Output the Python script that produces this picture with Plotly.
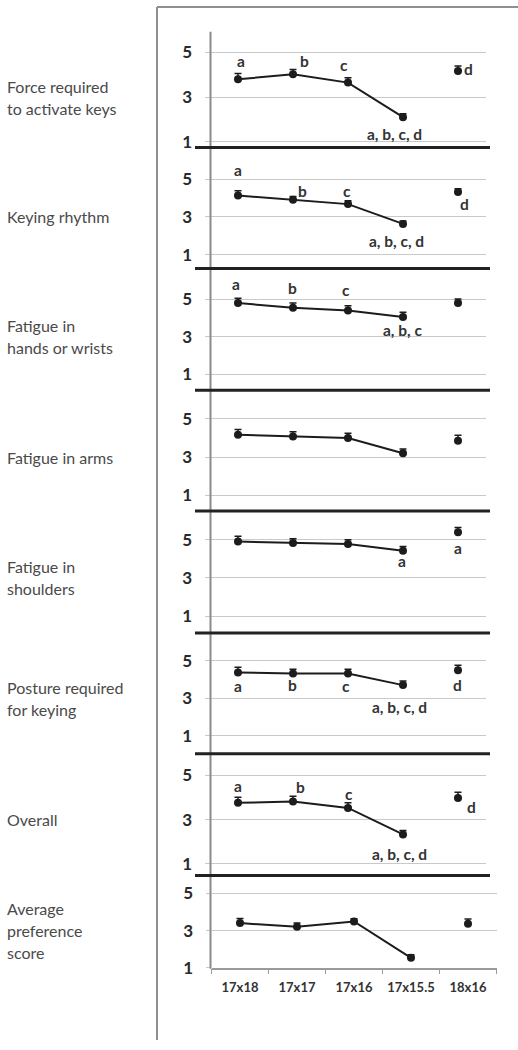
import plotly.graph_objects as go

W, H = 518, 1050

# Keyboard sizes (key pitch, mm)
sizes = ["17x18", "17x17", "17x16", "17x15.5", "18x16"]

# Rated criteria, one panel each
criteria = [
    ["Force required", "to activate keys"],
    ["Keying rhythm"],
    ["Fatigue in", "hands or wrists"],
    ["Fatigue in arms"],
    ["Fatigue in", "shoulders"],
    ["Posture required", "for keying"],
    ["Overall"],
    ["Average", "preference", "score"],
]

# Mean ratings and standard errors per keyboard size
force_keys = [3.80, 4.02, 3.65, 2.10, 4.17]
force_keys_se = [0.26, 0.22, 0.22, 0.15, 0.22]
keying_rhythm = [4.14, 3.91, 3.68, 2.63, 4.32]
keying_rhythm_se = [0.25, 0.18, 0.18, 0.15, 0.18]
fatigue_hands = [4.79, 4.54, 4.40, 4.05, 4.79]
fatigue_hands_se = [0.26, 0.25, 0.25, 0.25, 0.22]
fatigue_arms = [4.17, 4.08, 4.00, 3.20, 3.86]
fatigue_arms_se = [0.28, 0.25, 0.25, 0.22, 0.28]
fatigue_shoulders = [4.91, 4.83, 4.78, 4.43, 5.40]
fatigue_shoulders_se = [0.28, 0.22, 0.22, 0.22, 0.24]
posture = [4.37, 4.32, 4.32, 3.70, 4.49]
posture_se = [0.28, 0.22, 0.22, 0.22, 0.26]
overall = [3.76, 3.82, 3.53, 2.33, 3.98]
overall_se = [0.25, 0.24, 0.23, 0.18, 0.26]
preference = [3.40, 3.20, 3.49, 1.53, 3.37]
preference_se = [0.25, 0.20, 0.15, 0.17, 0.25]

# Significant-difference letters per keyboard size
force_keys_sig = ["a", "b", "c", "a, b, c, d", "d"]
keying_rhythm_sig = ["a", "b", "c", "a, b, c, d", "d"]
fatigue_hands_sig = ["a", "b", "c", "a, b, c", ""]
fatigue_arms_sig = ["", "", "", "", ""]
fatigue_shoulders_sig = ["", "", "", "a", "a"]
posture_sig = ["a", "b", "c", "a, b, c, d", "d"]
overall_sig = ["a", "b", "c", "a, b, c, d", "d"]
preference_sig = ["", "", "", "", ""]

yticks = [1, 3, 5]

panels = [
    (force_keys, force_keys_se, force_keys_sig),
    (keying_rhythm, keying_rhythm_se, keying_rhythm_sig),
    (fatigue_hands, fatigue_hands_se, fatigue_hands_sig),
    (fatigue_arms, fatigue_arms_se, fatigue_arms_sig),
    (fatigue_shoulders, fatigue_shoulders_se, fatigue_shoulders_sig),
    (posture, posture_se, posture_sig),
    (overall, overall_se, overall_sig),
    (preference, preference_se, preference_sig),
]

# Panel geometry in pixels: top edge, row of 5, row of 1, bottom edge
geometry = [
    (32, 53, 143, 149),
    (150, 181, 257, 271),
    (272, 302, 378, 394),
    (395, 423, 500, 516),
    (517, 545, 622, 639),
    (640, 667, 743, 761),
    (762, 783, 872, 884),
    (885, 902, 977, 977),
]
# Horizontal extent of the plotting area (pixels)
x_extent = [(210.5, 485.5)] * 7 + [(211.5, 496.5)]

# Letter placement relative to each point: (dx, dy) in pixels, dy up
letter_shift = [
    [(3, 18), (11, 13), (-4, 18), (-9, -17), (10, 2)],
    [(0, 25), (9, 9), (-1, 13), (-7, -17), (6, -12)],
    [(-2, 19), (-1, 20), (-2, 20), (-1, -13), (0, 0)],
    [(0, 0)] * 5,
    [(0, 0), (0, 0), (0, 0), (-1, -10), (0, -16)],
    [(0, -13), (-1, -12), (-2, -13), (-4, -22), (-1, -15)],
    [(0, 17), (7, 15), (1, 14), (-4, -20), (13, -9)],
    [(0, 0)] * 5,
]

INK = "#1c1c1c"
TEXT = "#333333"
GRID = "#c9c9c9"
FONT = "Lato, Open Sans, sans-serif"


def px_x(x):
    return x / W


def px_y(y):
    return 1 - y / H


fig = go.Figure()
annotations = []
layout = {}

for k, ((vals, se, sig), (top, p5, p1, bot), (xl, xr)) in enumerate(
        zip(panels, geometry, x_extent), start=1):
    xa = "x" if k == 1 else f"x{k}"
    ya = "y" if k == 1 else f"y{k}"
    unit = (p1 - p5) / 4.0
    y_hi = 5 + (p5 - top) / unit
    y_lo = 1 - (bot - p1) / unit

    err = dict(type="data", symmetric=False, color=INK, thickness=1.5, width=3.5)
    # connected sizes
    fig.add_trace(go.Scatter(
        x=sizes[:4], y=vals[:4], xaxis=xa, yaxis=ya, mode="lines+markers",
        line=dict(color=INK, width=2), marker=dict(color=INK, size=8),
        error_y=dict(err, array=se[:4], arrayminus=[0] * 4),
        cliponaxis=False, showlegend=False, hoverinfo="skip"))
    # stand-alone size
    fig.add_trace(go.Scatter(
        x=sizes[4:], y=vals[4:], xaxis=xa, yaxis=ya, mode="markers",
        marker=dict(color=INK, size=8),
        error_y=dict(err, array=se[4:], arrayminus=[0]),
        cliponaxis=False, showlegend=False, hoverinfo="skip"))

    xkey = "xaxis" if k == 1 else f"xaxis{k}"
    ykey = "yaxis" if k == 1 else f"yaxis{k}"
    last = k == len(panels)
    layout[xkey] = dict(
        domain=[px_x(xl), px_x(xr)], anchor=ya, type="category",
        categoryorder="array", categoryarray=sizes, range=[-0.5, 4.5],
        showgrid=False, zeroline=False,
        showline=last, linecolor="#9a9a9a", linewidth=1.5,
        ticks="outside" if last else "", tickson="boundaries",
        ticklen=5, tickcolor="#9a9a9a", tickwidth=1.2,
        showticklabels=last, tickangle=0, ticklabelstandoff=7,
        tickfont=dict(family=FONT, size=13, color=TEXT, weight="bold"),
    )
    layout[ykey] = dict(
        domain=[px_y(bot), px_y(top)], anchor=xa, range=[y_lo, y_hi],
        tickvals=yticks, ticktext=[str(v) for v in yticks],
        showgrid=True, gridcolor=GRID, gridwidth=1, zeroline=False,
        showline=False, ticks="outside", ticklen=5, tickcolor=GRID,
        ticklabelstandoff=9,
        tickfont=dict(family=FONT, size=17, color="#2a2a2a", weight="bold"),
    )

    # significance letters
    for i, (txt, (dx, dy)) in enumerate(zip(sig, letter_shift[k - 1])):
        if not txt:
            continue
        annotations.append(dict(
            x=sizes[i], y=vals[i], xref=xa, yref=ya, text=txt, showarrow=False,
            xshift=dx, yshift=dy, xanchor="center", yanchor="middle",
            font=dict(family=FONT, size=15.5, color=TEXT, weight="bold")))

    # criterion name on the left, centred on the middle gridline
    lines = criteria[k - 1]
    n = len(lines)
    for j, line in enumerate(lines):
        annotations.append(dict(
            x=px_x(5), xref="paper", y=3, yref=ya, text=line, showarrow=False,
            xanchor="left", yanchor="middle",
            yshift=((n - 1) / 2.0 - j) * 22,
            font=dict(family=FONT, size=16, color="#4a4a4a")))

shapes = []
# outer frame (left and top edges)
shapes.append(dict(type="line", xref="paper", yref="paper",
                   x0=px_x(157), x1=px_x(157), y0=px_y(7), y1=0,
                   line=dict(color="#8f8f8f", width=2)))
shapes.append(dict(type="line", xref="paper", yref="paper",
                   x0=px_x(157), x1=1, y0=px_y(7), y1=px_y(7),
                   line=dict(color="#8f8f8f", width=2)))
# shared vertical value axis
shapes.append(dict(type="line", xref="paper", yref="paper",
                   x0=px_x(210.5), x1=px_x(210.5), y0=px_y(32), y1=px_y(978),
                   line=dict(color="#8a8a8a", width=2)))
# heavy separators between panels
for (top, p5, p1, bot) in geometry[:-1]:
    shapes.append(dict(type="line", xref="paper", yref="paper",
                       x0=px_x(195), x1=px_x(490), y0=px_y(bot), y1=px_y(bot),
                       line=dict(color="#222222", width=3)))

fig.update_layout(
    width=W, height=H, margin=dict(l=0, r=0, t=0, b=0),
    paper_bgcolor="white", plot_bgcolor="rgba(0,0,0,0)",
    showlegend=False, annotations=annotations, shapes=shapes,
    **layout,
)

fig.write_html("out.html")
